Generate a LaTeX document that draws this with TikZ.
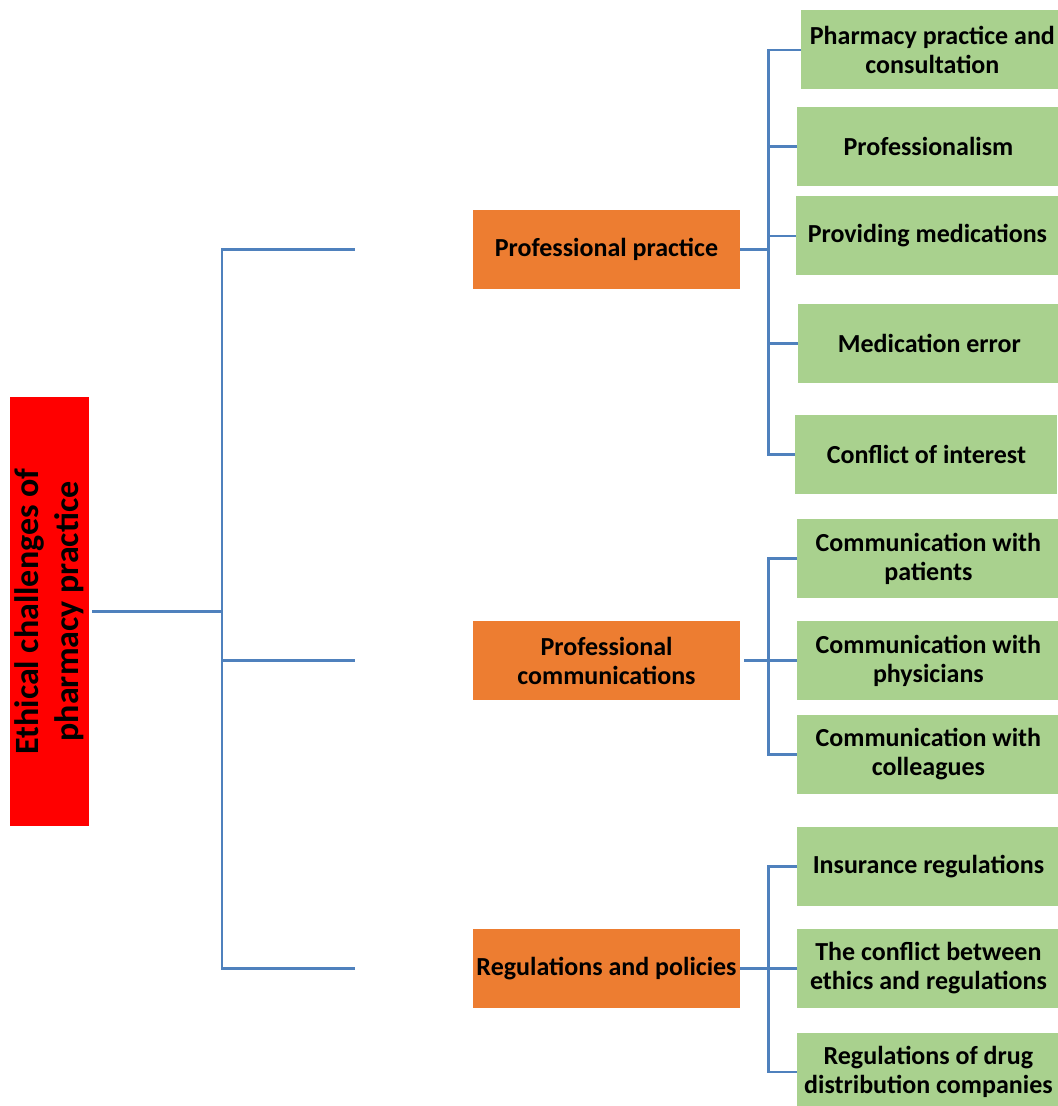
\documentclass[tikz,border=0pt]{standalone}
\usepackage{fontspec}
\setmainfont{Carlito}
\usepackage{xcolor}
\usetikzlibrary{positioning}
\definecolor{rootred}{HTML}{FF0000}
\definecolor{midorange}{HTML}{ED7D31}
\definecolor{leafgreen}{HTML}{A9D18E}
\definecolor{linkblue}{HTML}{4F81BD}

\begin{document}
\begin{tikzpicture}[x=0.5pt,y=-0.5pt,
  every node/.style={font=\bfseries\fontsize{13}{14.5}\selectfont,align=center,inner sep=0pt},
  rootbox/.style={fill=rootred,rotate=90,minimum width=214.5pt,minimum height=39.5pt,
    font=\bfseries\fontsize{17}{20}\selectfont},
  midbox/.style={fill=midorange,minimum width=133.5pt,minimum height=39.5pt},
  leafbox/.style={fill=leafgreen,anchor=west,minimum width=131pt,minimum height=39.5pt},
  link/.style={draw=linkblue,line width=1.3pt}]
  \useasboundingbox (0,0) rectangle (1057,1106);
  \node[rootbox] (root) at (49.5,611.5) {Ethical challenges of\\pharmacy practice};
  \node[midbox] (practice) at (606.5,249.5) {Professional practice};
  \node[midbox] (comms) at (606.5,660.5) {Professional\\communications};
  \node[midbox] (rules) at (606.5,968.5) {Regulations and policies};
  \node[leafbox] (consult) at (801,50) {Pharmacy practice and\\consultation};
  \node[leafbox] (profism) at (797,146.5) {Professionalism};
  \node[leafbox] (provide) at (796,236) {Providing medications};
  \node[leafbox] (error) at (798,343.5) {Medication error};
  \node[leafbox] (interest) at (795,454.5) {Conflict of interest};
  \node[leafbox] (patients) at (797,558.5) {Communication with\\patients};
  \node[leafbox] (physicians) at (797,660.5) {Communication with\\physicians};
  \node[leafbox] (colleagues) at (797,754.5) {Communication with\\colleagues};
  \node[leafbox] (insurance) at (797,866.5) {Insurance regulations};
  \node[leafbox] (ethics) at (797,968.5) {The conflict between\\ethics and regulations};
  \node[leafbox] (distrib) at (797,1072) {Regulations of drug\\distribution companies};
  \coordinate (trunk) at (222,611.5);
  \coordinate (practice-in) at ([xshift=-59pt]practice.west);
  \coordinate (comms-in) at ([xshift=-59pt]comms.west);
  \coordinate (rules-in) at ([xshift=-59pt]rules.west);
  \coordinate (practice-bus) at ([xshift=14pt]practice.east);
  \coordinate (comms-bus) at ([xshift=14pt]comms.east);
  \coordinate (rules-bus) at ([xshift=14pt]rules.east);
  \draw[link] ([xshift=1.5pt]root.south) -- (trunk);
  \draw[link] (practice-in) -| (trunk) |- (rules-in);
  \draw[link] (trunk |- comms-in) -- (comms-in);
  \draw[link] (practice.east) -- (practice-bus);
  \draw[link] (consult.west) -| (practice-bus) |- (interest.west);
  \draw[link] (profism.west) -- (profism.west -| practice-bus);
  \draw[link] (provide.west) -- (provide.west -| practice-bus);
  \draw[link] (error.west) -- (error.west -| practice-bus);
  \draw[link] ([xshift=2pt]comms.east) -- (comms-bus);
  \draw[link] (patients.west) -| (comms-bus) |- (colleagues.west);
  \draw[link] (physicians.west) -- (physicians.west -| comms-bus);
  \draw[link] (rules.east) -- (rules-bus);
  \draw[link] (insurance.west) -| (rules-bus) |- (distrib.west);
  \draw[link] (ethics.west) -- (ethics.west -| rules-bus);
\end{tikzpicture}
\end{document}
